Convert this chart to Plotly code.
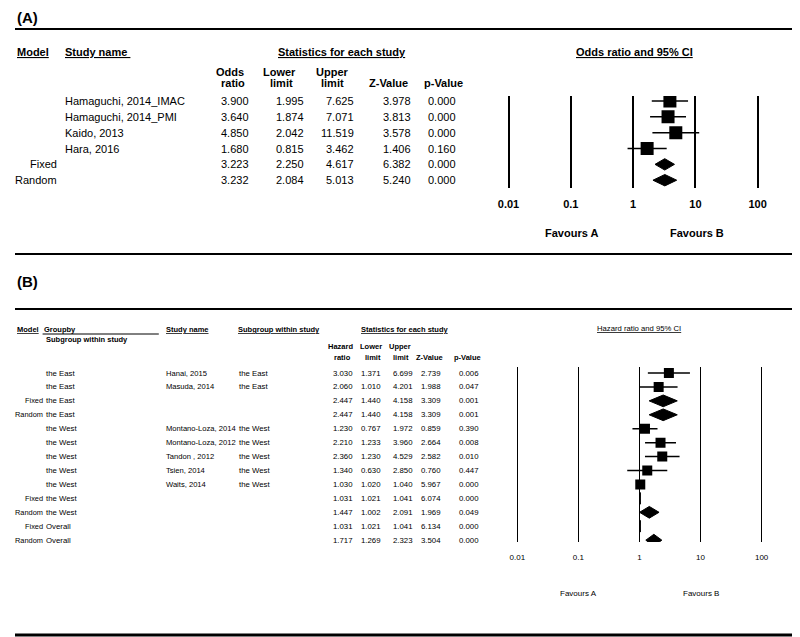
import plotly.graph_objects as go

# ============================
# Panel A data
# ============================
model_a = ["", "", "", "", "Fixed", "Random"]
study_a = ["Hamaguchi, 2014_IMAC", "Hamaguchi, 2014_PMI", "Kaido, 2013", "Hara, 2016", "", ""]
or_a = [3.900, 3.640, 4.850, 1.680, 3.223, 3.232]
lo_a = [1.995, 1.874, 2.042, 0.815, 2.250, 2.084]
hi_a = [7.625, 7.071, 11.519, 3.462, 4.617, 5.013]
z_a = [3.978, 3.813, 3.578, 1.406, 6.382, 5.240]
p_a = [0.000, 0.000, 0.000, 0.160, 0.000, 0.000]

# ============================
# Panel B data
# ============================
model_b = ["", "", "Fixed", "Random", "", "", "", "", "", "Fixed", "Random", "Fixed", "Random"]
group_b = ["the East", "the East", "the East", "the East", "the West", "the West", "the West",
           "the West", "the West", "the West", "the West", "Overall", "Overall"]
study_b = ["Hanai, 2015", "Masuda, 2014", "", "", "Montano-Loza, 2014", "Montano-Loza, 2012",
           "Tandon , 2012", "Tsien, 2014", "Waits, 2014", "", "", "", ""]
subgroup_b = ["the East", "the East", "", "", "the West", "the West", "the West", "the West",
              "the West", "", "", "", ""]
hr_b = [3.030, 2.060, 2.447, 2.447, 1.230, 2.210, 2.360, 1.340, 1.030, 1.031, 1.447, 1.031, 1.717]
lo_b = [1.371, 1.010, 1.440, 1.440, 0.767, 1.233, 1.230, 0.630, 1.020, 1.021, 1.002, 1.021, 1.269]
hi_b = [6.699, 4.201, 4.158, 4.158, 1.972, 3.960, 4.529, 2.850, 1.040, 1.041, 2.091, 1.041, 2.323]
z_b = [2.739, 1.988, 3.309, 3.309, 0.859, 2.664, 2.582, 0.760, 5.967, 6.074, 1.969, 6.134, 3.504]
p_b = [0.006, 0.047, 0.001, 0.001, 0.390, 0.008, 0.010, 0.447, 0.000, 0.000, 0.049, 0.000, 0.000]

tick_vals = [0.01, 0.1, 1, 10, 100]
tick_text = ["0.01", "0.1", "1", "10", "100"]

W, H = 800, 637
OFF = 8  # page margin around the plot
FONT = "Liberation Sans"


# page pixel -> paper coordinates
def px(x):
    return (x - OFF) / W


def py(y):
    return 1 - (y - OFF) / H


fig = go.Figure()


def add_forest(est, lo, hi, models, xa, ya, sq, dh):
    ci_x, ci_y, sx, sy, dx, dy = [], [], [], [], [], []
    for i, (e, l, h, m) in enumerate(zip(est, lo, hi, models)):
        if m:
            dx += [l, e, h, e, l, None]
            dy += [i, i - dh, i, i + dh, i, None]
        else:
            ci_x += [l, h, None]
            ci_y += [i, i, None]
            sx.append(e)
            sy.append(i)
    fig.add_trace(go.Scatter(x=ci_x, y=ci_y, mode="lines", line=dict(color="black", width=1.5),
                             xaxis=xa, yaxis=ya, showlegend=False, hoverinfo="skip"))
    fig.add_trace(go.Scatter(x=sx, y=sy, mode="markers",
                             marker=dict(symbol="square", size=sq, color="black"),
                             xaxis=xa, yaxis=ya, showlegend=False))
    fig.add_trace(go.Scatter(x=dx, y=dy, mode="lines", fill="toself", fillcolor="black",
                             line=dict(color="black", width=1),
                             xaxis=xa, yaxis=ya, showlegend=False, hoverinfo="skip"))


add_forest(or_a, lo_a, hi_a, model_a, "x", "y", 13, 0.36)
add_forest(hr_b, lo_b, hi_b, model_b, "x2", "y2", 10, 0.42)

ann = []


def txt(x, y, s, size, anchor="left", yref="paper", bold=False):
    ann.append(dict(x=px(x), y=(py(y) if yref == "paper" else y), xref="paper", yref=yref,
                    text=s, showarrow=False, xanchor=anchor, yanchor="middle",
                    font=dict(family=FONT, size=size, color="black",
                              weight="bold" if bold else "normal")))


# panel labels
txt(8, 18, "(A)", 15, bold=True)
txt(8, 282, "(B)", 15, bold=True)

# ---- panel A headers
txt(8, 52, "<u>Model</u>", 11, bold=True)
txt(57, 52, "<u>Study name </u>", 11, bold=True)
txt(340, 52, "<u>Statistics for each study</u>", 11, "center", bold=True)
txt(637, 52, "<u>Odds ratio and 95% CI</u>", 11, "center", bold=True)
txt(226, 72, "Odds", 11, "center", bold=True)
txt(229, 83, "ratio", 11, "center", bold=True)
txt(277, 72, "Lower", 11, "center", bold=True)
txt(279, 83, "limit", 11, "center", bold=True)
txt(330, 72, "Upper", 11, "center", bold=True)
txt(330, 83, "limit", 11, "center", bold=True)
txt(387, 83, "Z-Value", 11, "center", bold=True)
txt(421, 83, "p-Value", 11, bold=True)

# ---- panel A rows
for i in range(len(or_a)):
    txt(53, i, model_a[i], 11, "right", "y")
    txt(57, i, study_a[i], 11, "left", "y")
    for xr, v in zip([248, 303, 354, 412, 458], [or_a[i], lo_a[i], hi_a[i], z_a[i], p_a[i]]):
        txt(xr, i, f"{v:.3f}", 11, "right", "y")

txt(573, 233, "Favours A", 11, "center", bold=True)
txt(700, 233, "Favours B", 11, "center", bold=True)

# ---- panel B headers
txt(8, 329, "<u>Model</u>", 7.5, bold=True)
txt(35, 329, "Groupby", 7.5, bold=True)
txt(37, 339, "Subgroup within study", 7.5, bold=True)
txt(159, 329, "<u>Study name</u>", 7.5, bold=True)
txt(232, 329, "<u>Subgroup within study</u>", 7.5, bold=True)
txt(357, 329, "<u>Statistics for each study</u>", 7.5, bold=True)
txt(642, 328, "<u>Hazard ratio and 95% CI</u>", 7.7, "center")
txt(353, 346, "Hazard", 7.5, "right", bold=True)
txt(351, 357, "ratio", 7.5, "right", bold=True)
txt(356, 346, "Lower", 7.5, bold=True)
txt(361, 357, "limit", 7.5, bold=True)
txt(386, 346, "Upper", 7.5, bold=True)
txt(390, 357, "limit", 7.5, bold=True)
txt(445, 357, "Z-Value", 7.5, "right", bold=True)
txt(483, 357, "p-Value", 7.5, "right", bold=True)

# ---- panel B rows
for i in range(len(hr_b)):
    txt(38, i, model_b[i], 7.4, "right", "y2")
    txt(37, i, group_b[i], 7.8, "left", "y2")
    txt(159, i, study_b[i], 7.6, "left", "y2")
    txt(233, i, subgroup_b[i], 7.8, "left", "y2")
    for xr, v in zip([353, 382, 414, 443, 481], [hr_b[i], lo_b[i], hi_b[i], z_b[i], p_b[i]]):
        txt(xr, i, f"{v:.3f}", 7.8, "right", "y2")

txt(580, 593, "Favours A", 8, "center")
txt(704, 593, "Favours B", 8, "center")

# rules and the long Groupby underline
shapes = []
for yy, wd in [(29, 2), (254, 2), (309, 2), (635, 3)]:
    shapes.append(dict(type="line", xref="paper", yref="paper", x0=px(OFF), x1=px(797),
                       y0=py(yy), y1=py(yy), line=dict(color="black", width=wd)))
shapes.append(dict(type="line", xref="paper", yref="paper", x0=px(36), x1=px(154),
                   y0=py(334), y1=py(334), line=dict(color="black", width=1)))

pad_a = 4 / 63
pad_b = 4 / 62
axis_common = dict(type="log", tickvals=tick_vals, ticktext=tick_text, showgrid=True,
                   gridcolor="black", zeroline=False, showline=False, ticks="",
                   fixedrange=True)

fig.update_layout(
    width=W, height=H,
    margin=dict(l=0, r=0, t=0, b=0),
    paper_bgcolor="white", plot_bgcolor="white",
    xaxis=dict(**axis_common, domain=[px(509 - 4), px(762 + 4)], range=[-2 - pad_a, 2 + pad_a],
               gridwidth=1.6, ticklabelstandoff=8, anchor="y",
               tickfont=dict(family=FONT, size=11, color="black", weight="bold")),
    yaxis=dict(domain=[py(188), py(96)], range=[(188 - 101) / 15.84, (96 - 101) / 15.84],
               visible=False, anchor="x"),
    xaxis2=dict(**axis_common, domain=[px(518 - 4), px(766 + 4)], range=[-2 - pad_b, 2 + pad_b],
                gridwidth=1.4, ticklabelstandoff=9, anchor="y2",
                tickfont=dict(family=FONT, size=8, color="black")),
    yaxis2=dict(domain=[py(542), py(367)], range=[(542 - 373) / 13.93, (367 - 373) / 13.93],
                visible=False, anchor="x2"),
    annotations=ann,
    shapes=shapes,
)

fig.write_html("out.html")
